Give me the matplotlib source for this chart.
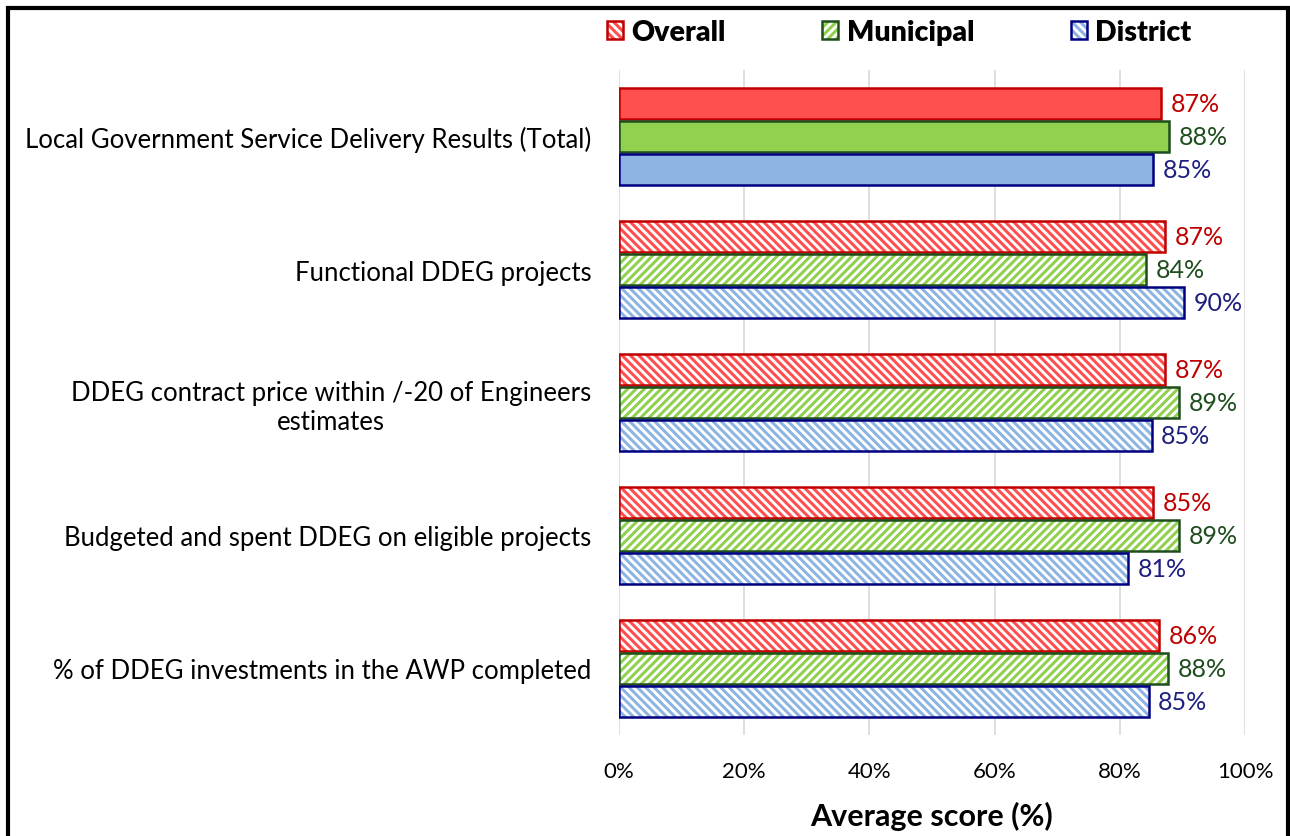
import matplotlib.pyplot as plt
import matplotlib.patches as mpatches
from matplotlib.legend_handler import HandlerTuple
import numpy as np

plt.rcParams.update({
    "font.family": ["Lato", "DejaVu Sans"],
    "hatch.linewidth": 2.2,
})

categories = [
    "Local Government Service Delivery Results (Total)",
    "Functional DDEG projects",
    "DDEG contract price within /-20 of Engineers\nestimates",
    "Budgeted and spent DDEG on eligible projects",
    "% of DDEG investments in the AWP completed",
]
series_names = ["Overall", "Municipal", "District"]
overall   = [86.6, 87.2, 87.2, 85.3, 86.3]
municipal = [87.9, 84.2, 89.5, 89.5, 87.7]
district  = [85.3, 90.3, 85.1, 81.3, 84.6]
label_vals = [
    [87, 87, 87, 85, 86],
    [88, 84, 89, 89, 88],
    [85, 90, 85, 81, 85],
]
x_ticks = [0, 20, 40, 60, 80, 100]

FILLS  = ["#FF5050", "#92D050", "#8EB4E3"]
EDGES  = ["#C00000", "#1E4D1E", "#000080"]
TEXTS  = ["#C00000", "#1E4D1E", "#1F1F7F"]
HATCH  = ["\\\\\\\\", "////", "\\\\\\\\"]

fig = plt.figure(figsize=(12.9, 8.37), dpi=100)
ax = fig.add_axes([619 / 1290, 1 - 736 / 837, (1245 - 619) / 1290, (736 - 71) / 837])

y = np.arange(len(categories))
h = 0.24
offsets = [-h, 0, h]
handles = []
for si, vals in enumerate([overall, municipal, district]):
    pos = y + offsets[si] + (si - 1) * 0.008
    # first category solid, the rest hatched
    ax.barh(pos[:1], vals[:1], h, color=FILLS[si], edgecolor=EDGES[si], linewidth=1.8)
    hb = ax.barh(pos[1:], vals[1:], h, color="white", edgecolor=FILLS[si],
                 hatch=HATCH[si], linewidth=0)
    eb = ax.barh(pos[1:], vals[1:], h, fill=False, edgecolor=EDGES[si], linewidth=1.8)
    handles.append((hb[0], eb[0]))
    for p, v, lab in zip(pos, vals, label_vals[si]):
        ax.text(v + 1.5, p, f"{lab}%", va="center", ha="left",
                fontsize=18, color=TEXTS[si])

ax.set_ylim(len(categories) - 0.5, -0.5)
ax.set_xlim(0, 100)
ax.set_xticks(x_ticks)
ax.set_xticklabels([f"{t}%" for t in x_ticks], fontsize=16)
ax.set_yticks(y)
ax.set_yticklabels(categories, fontsize=18.5, multialignment="center")
ax.tick_params(axis="y", length=0, pad=20)
ax.tick_params(axis="x", length=0, pad=19)
ax.xaxis.grid(True, color="#D9D9D9", linewidth=1.2)
ax.set_axisbelow(True)
for s in ax.spines.values():
    s.set_visible(False)
ax.set_xlabel("Average score (%)", fontsize=22, fontweight="bold", labelpad=14)

fig.legend(handles, series_names, loc="center left",
           bbox_to_anchor=(607 / 1290, 1 - 33 / 837),
           ncol=3, frameon=False, borderpad=0, borderaxespad=0,
           handler_map={tuple: HandlerTuple(ndivide=1)},
           handlelength=0.55, handleheight=0.55, handletextpad=0.3,
           columnspacing=3.4, prop={"size": 20.5, "weight": "heavy"})

fig.add_artist(mpatches.Rectangle((8 / 1290, -0.1), (1288 - 8) / 1290, 1.1 - 9 / 837,
                                  transform=fig.transFigure, fill=False,
                                  edgecolor="black", linewidth=3))

fig.savefig("out.png", dpi=100)
